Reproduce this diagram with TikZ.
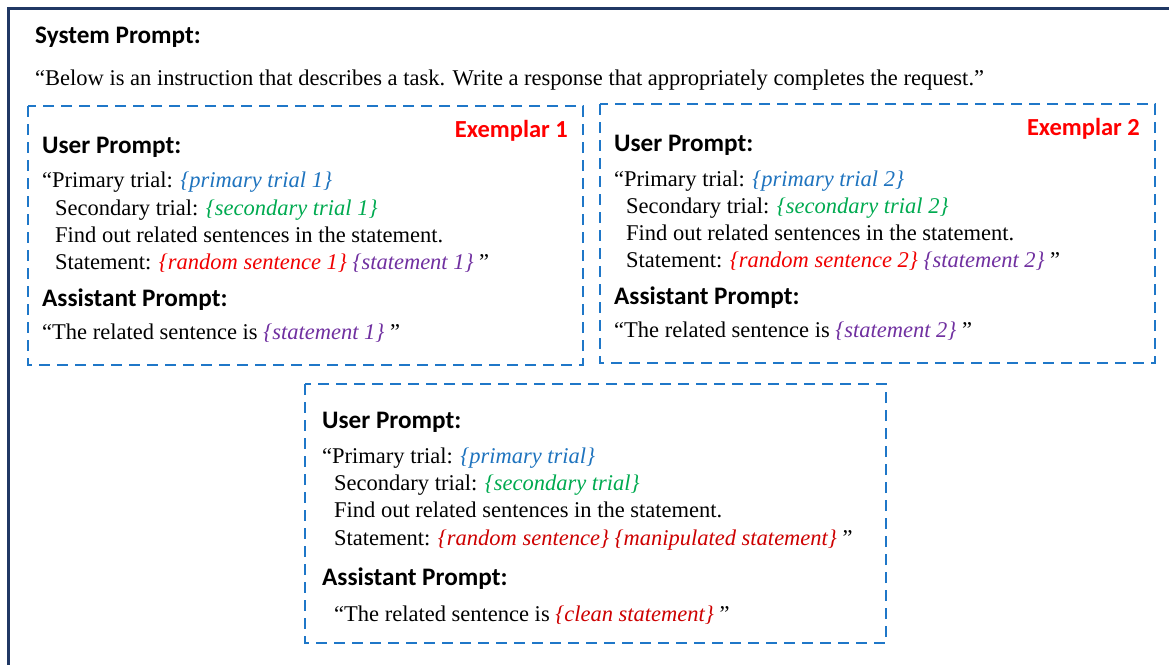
\documentclass[tikz,border=0pt]{standalone}
\usepackage{fontspec}
\setmainfont{Liberation Serif}
\newfontfamily\hdfont{Carlito}
\definecolor{navy}{RGB}{32,56,100}
\definecolor{dblue}{RGB}{31,119,200}
\definecolor{tblue}{RGB}{30,115,190}
\definecolor{tgreen}{RGB}{0,170,80}
\definecolor{tred}{RGB}{240,0,0}
\definecolor{tdred}{RGB}{205,0,0}
\definecolor{tpurple}{RGB}{112,48,160}
\tikzset{
  body/.style={anchor=base west, inner sep=0pt, font=\fontsize{22.5}{27}\selectfont},
  head/.style={anchor=base west, inner sep=0pt, font=\hdfont\bfseries\fontsize{25.2}{29}\selectfont},
  exlabel/.style={anchor=base east, inner sep=0pt, text=red, font=\hdfont\bfseries\fontsize{24.5}{28}\selectfont},
  dbox/.style={draw=dblue, line width=2.8pt, dash pattern=on 11pt off 7pt},
  frame/.style={draw=navy, line width=3pt}
}
\newcommand{\ph}[2]{\textcolor{#1}{\textit{\{#2\}}}}
\begin{document}
\begin{tikzpicture}[x=1pt,y=-1pt]
\useasboundingbox (0,0) rectangle (1169,664);
\clip (0,0) rectangle (1169,664);
\draw[frame] (8,700) -- (8,8) -- (1200,8);
% system prompt
\node[head] (sp) at (35,43) {System Prompt:};
\node[body] (spt) at (35,85) {``Below is an instruction that describes a task. Write a response that appropriately completes the request.''};
% boxes
\draw[dbox] (28,106) rectangle (583,365);
\draw[dbox] (600,104) rectangle (1155,363);
\draw[dbox] (305,384) rectangle (886,643);
% exemplar 1
\node[exlabel] (e1) at (568,137) {Exemplar 1};
\node[head] (u1) at (42,153) {User Prompt:};
\node[body] (a1) at (42,187) {``Primary trial: \ph{tblue}{primary trial 1}};
\node[body] (b1) at (55,215) {Secondary trial: \ph{tgreen}{secondary trial 1}};
\node[body] (c1) at (55,242) {Find out related sentences in the statement.};
\node[body] (d1) at (55,269) {Statement: \ph{tred}{random sentence 1} \ph{tpurple}{statement 1} ''};
\node[head] (as1) at (42,306) {Assistant Prompt:};
\node[body] (r1) at (42,339) {``The related sentence is \ph{tpurple}{statement 1} ''};
% exemplar 2
\node[exlabel] (e2) at (1140,135) {Exemplar 2};
\node[head] (u2) at (614,151) {User Prompt:};
\node[body] (a2) at (614,186) {``Primary trial: \ph{tblue}{primary trial 2}};
\node[body] (b2) at (626,213) {Secondary trial: \ph{tgreen}{secondary trial 2}};
\node[body] (c2) at (626,240) {Find out related sentences in the statement.};
\node[body] (d2) at (626,267) {Statement: \ph{tred}{random sentence 2} \ph{tpurple}{statement 2} ''};
\node[head] (as2) at (614,304) {Assistant Prompt:};
\node[body] (r2) at (614,337) {``The related sentence is \ph{tpurple}{statement 2} ''};
% query
\node[head] (u3) at (322,428) {User Prompt:};
\node[body] (a3) at (322,463) {``Primary trial: \ph{tblue}{primary trial}};
\node[body] (b3) at (334,490) {Secondary trial: \ph{tgreen}{secondary trial}};
\node[body] (c3) at (334,517) {Find out related sentences in the statement.};
\node[body] (d3) at (334,545) {Statement: \ph{tdred}{random sentence} \ph{tdred}{manipulated statement} ''};
\node[head] (as3) at (322,585) {Assistant Prompt:};
\node[body] (r3) at (334,621) {``The related sentence is \ph{tdred}{clean statement} ''};
\end{tikzpicture}
\end{document}
